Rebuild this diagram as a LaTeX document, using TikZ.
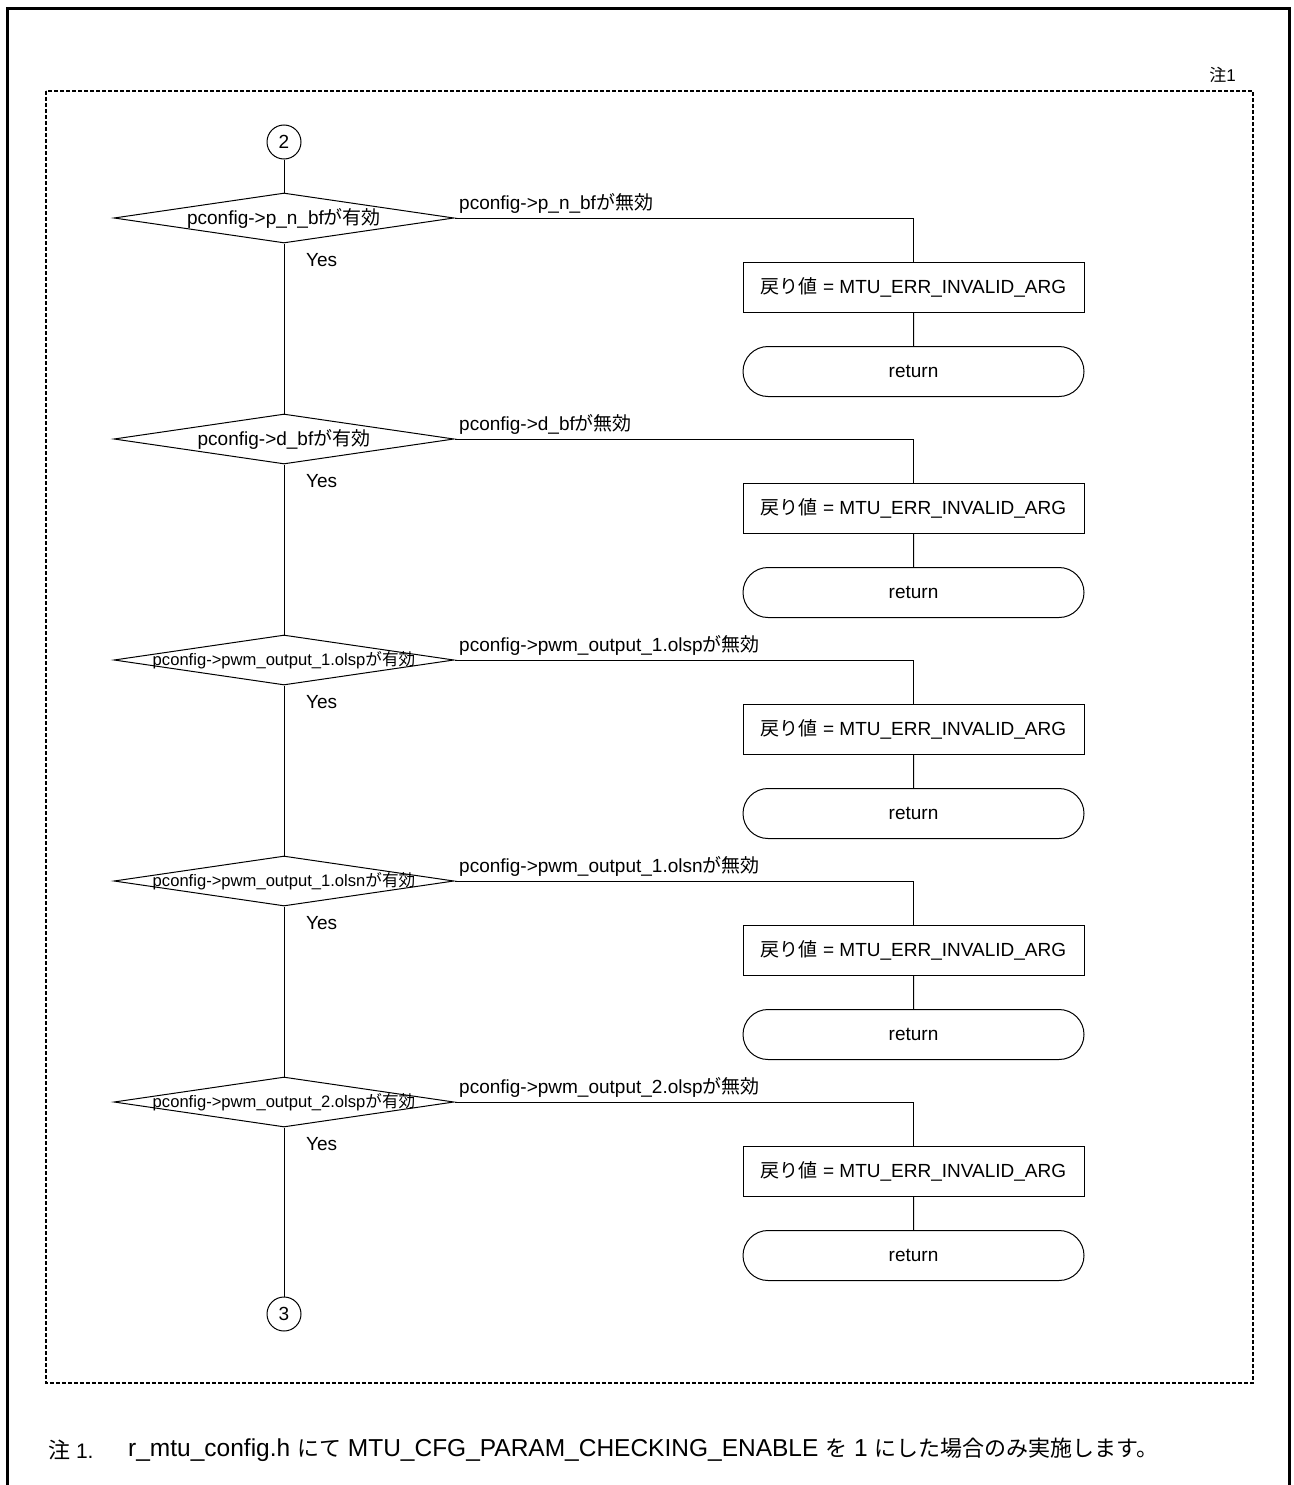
\documentclass[tikz,border=0pt]{standalone}
\usepackage{fontspec}
\setmainfont{Liberation Sans}
\newfontfamily\jpfont{Noto Sans CJK JP}
\newcommand\jtxt[1]{{\jpfont #1}}
% Japanese runs inside the footnote are set a little smaller than its Latin text
\newcommand\jnote[1]{{\jpfont\fontsize{22}{29}\selectfont #1}}
\usetikzlibrary{shapes.geometric,shapes.misc}

\tikzset{
  flow/.style={line width=1pt},
  txt/.style={font=\fontsize{19}{23}\selectfont, inner sep=0pt},
  smalltxt/.style={font=\fontsize{16.6}{20}\selectfont, inner sep=0pt},
  notetxt/.style={font=\fontsize{24.5}{29}\selectfont, inner sep=0pt, anchor=west},
  decision/.style={draw, shape=diamond, aspect=6.8, minimum width=340pt,
                   minimum height=50pt, inner sep=0pt, line width=1pt},
  procbox/.style={draw, rectangle, minimum width=341pt, minimum height=50pt,
                  inner sep=0pt, line width=1pt, txt},
  terminal/.style={draw, rounded rectangle, minimum width=341pt,
                   minimum height=50pt, inner sep=0pt, line width=1pt, txt},
  connector/.style={draw, circle, minimum size=34pt, inner sep=0pt,
                    line width=1pt, txt},
  yeslabel/.style={txt, anchor=west},
  faillabel/.style={txt, anchor=base west},
  frame/.style={line width=3pt},
  region/.style={line width=1.2pt, dash pattern=on 4pt off 2pt}
}

\begin{document}
\begin{tikzpicture}[x=1pt, y=-1pt]
  \useasboundingbox (0,0) rectangle (1293,1485);
  \fill[white] (0,0) rectangle (1293,1485);

  % page frame (open at the bottom)
  \draw[frame] (7,1500) -- (7,9) -- (1289,9) -- (1289,1500);

  % parameter-check region
  \draw[region] (46,91) rectangle (1253,1383);
  \node[font=\fontsize{17}{20}\selectfont, inner sep=0pt, anchor=east] (regnote) at (1236,75) {\jtxt{注}1};

  % connectors
  \node[connector] (c2) at (284,142) {2};
  \node[connector] (c3) at (284,1314) {3};

  % decisions
  \node[decision] (d1) at (284,218) {};
  \node[decision] (d2) at (284,439) {};
  \node[decision] (d3) at (284,660) {};
  \node[decision] (d4) at (284,881) {};
  \node[decision] (d5) at (284,1102) {};
  \node[txt] (t1) at (d1) {pconfig->p\_n\_bf\jtxt{が有効}};
  \node[txt] (t2) at (d2) {pconfig->d\_bf\jtxt{が有効}};
  \node[smalltxt] (t3) at (d3) {pconfig->pwm\_output\_1.olsp\jtxt{が有効}};
  \node[smalltxt] (t4) at (d4) {pconfig->pwm\_output\_1.olsn\jtxt{が有効}};
  \node[smalltxt] (t5) at (d5) {pconfig->pwm\_output\_2.olsp\jtxt{が有効}};

  % error assignments and returns
  \node[procbox] (b1) at (913.5,287) {\jtxt{戻り値} = MTU\_ERR\_INVALID\_ARG};
  \node[procbox] (b2) at (913.5,508) {\jtxt{戻り値} = MTU\_ERR\_INVALID\_ARG};
  \node[procbox] (b3) at (913.5,729) {\jtxt{戻り値} = MTU\_ERR\_INVALID\_ARG};
  \node[procbox] (b4) at (913.5,950) {\jtxt{戻り値} = MTU\_ERR\_INVALID\_ARG};
  \node[procbox] (b5) at (913.5,1171) {\jtxt{戻り値} = MTU\_ERR\_INVALID\_ARG};
  \node[terminal] (r1) at (913.5,371.5) {return};
  \node[terminal] (r2) at (913.5,592.5) {return};
  \node[terminal] (r3) at (913.5,813.5) {return};
  \node[terminal] (r4) at (913.5,1034.5) {return};
  \node[terminal] (r5) at (913.5,1255.5) {return};

  % branch labels
  \node[yeslabel] (y1) at (306,260) {Yes};
  \node[yeslabel] (y2) at (306,481) {Yes};
  \node[yeslabel] (y3) at (306,702) {Yes};
  \node[yeslabel] (y4) at (306,923) {Yes};
  \node[yeslabel] (y5) at (306,1144) {Yes};
  \node[faillabel] (f1) at (459,209) {pconfig->p\_n\_bf\jtxt{が無効}};
  \node[faillabel] (f2) at (459,430) {pconfig->d\_bf\jtxt{が無効}};
  \node[faillabel] (f3) at (459,651) {pconfig->pwm\_output\_1.olsp\jtxt{が無効}};
  \node[faillabel] (f4) at (459,872) {pconfig->pwm\_output\_1.olsn\jtxt{が無効}};
  \node[faillabel] (f5) at (459,1093) {pconfig->pwm\_output\_2.olsp\jtxt{が無効}};

  % main flow
  \draw[flow] (c2) -- (d1) -- (d2) -- (d3) -- (d4) -- (d5) -- (c3);

  % invalid branches
  \foreach \i in {1,...,5} {
    \draw[flow] (d\i.east) -| (b\i.north);
    \draw[flow] (b\i) -- (r\i);
  }

  % footnote
  \node[notetxt, font=\fontsize{21}{29}\selectfont] (nlabel) at (48,1450) {\jnote{注} 1.};
  \node[notetxt] (ntext) at (128,1450)
    {r\_mtu\_config.h \jnote{にて} MTU\_CFG\_PARAM\_CHECKING\_ENABLE \jnote{を} 1 \jnote{にした場合のみ実施します。}};
\end{tikzpicture}
\end{document}
